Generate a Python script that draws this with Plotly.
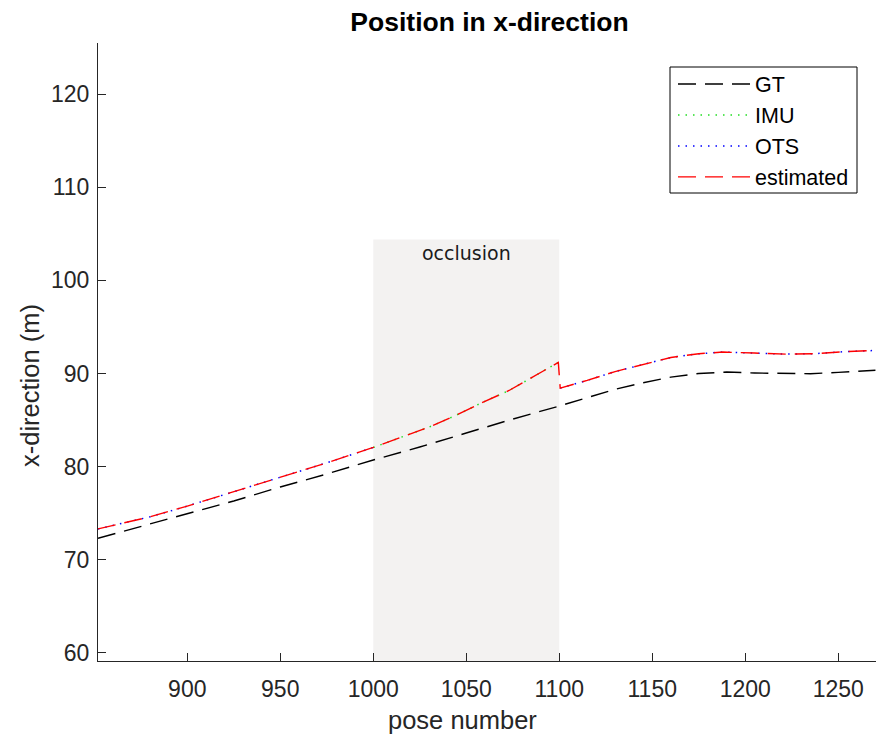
import plotly.graph_objects as go

# ---------------- data ----------------
gt_pose = [852, 870, 900, 925, 950, 975, 1000, 1025, 1050, 1075, 1100, 1115, 1130,
           1145, 1160, 1175, 1190, 1205, 1220, 1235, 1250, 1270]
gt_x = [72.3, 73.3, 74.9, 76.3, 77.8, 79.2, 80.7, 82.1, 83.6, 85.1, 86.5, 87.4, 88.3,
        89.0, 89.6, 90.0, 90.15, 90.05, 89.97, 89.97, 90.12, 90.35]

imu_pose = [1000, 1015, 1030, 1044, 1058, 1073, 1086, 1099.5]
imu_x = [82.05, 83.13, 84.24, 85.46, 86.82, 88.17, 89.68, 91.18]

ots_pre_pose = [852, 880, 900, 925, 950, 975, 1000]
ots_pre_x = [73.3, 74.6, 75.75, 77.3, 78.83, 80.4, 82.05]

ots_post_pose = [1100.5, 1115, 1130, 1146, 1160, 1175, 1188, 1205, 1222, 1237, 1255, 1270]
ots_post_x = [88.43, 89.25, 90.2, 91.04, 91.72, 92.12, 92.3, 92.19, 92.08, 92.12, 92.36, 92.47]

occlusion_start, occlusion_end, occlusion_top = 1000, 1100, 104.4

x_ticks = [900, 950, 1000, 1050, 1100, 1150, 1200, 1250]
y_ticks = [60, 70, 80, 90, 100, 110, 120]

# estimated trajectory = OTS before, IMU during occlusion, OTS after
est_pose = ots_pre_pose + imu_pose[1:] + ots_post_pose
est_x = ots_pre_x + imu_x[1:] + ots_post_x

ots_pose = ots_pre_pose + [None] + ots_post_pose
ots_x = ots_pre_x + [None] + ots_post_x

FONT = "Arial, 'Liberation Sans', Helvetica, sans-serif"
AX = "#262626"

# plot area in pixels (for placing paper-referenced layout items)
L, R, T, B = 98, 876, 43, 661


def px(xp):
    return (xp - L) / (R - L)


def py(yp):
    return (B - yp) / (B - T)


fig = go.Figure()
fig.add_trace(go.Scatter(x=gt_pose, y=gt_x, mode="lines", name="GT",
                         line=dict(color="black", width=1.4, dash="18px,9px")))
fig.add_trace(go.Scatter(x=imu_pose, y=imu_x, mode="lines", name="IMU",
                         line=dict(color="#22dd22", width=1.5, dash="1.5px,6px")))
fig.add_trace(go.Scatter(x=ots_pose, y=ots_x, mode="lines", name="OTS",
                         connectgaps=False,
                         line=dict(color="#0000ff", width=1.5, dash="1.5px,6px")))
fig.add_trace(go.Scatter(x=est_pose, y=est_x, mode="lines", name="estimated",
                         line=dict(color="#ff0000", width=1.4, dash="18px,9px")))

# occlusion region
fig.add_shape(type="rect", xref="x", yref="y",
              x0=occlusion_start, x1=occlusion_end, y0=59.11, y1=occlusion_top,
              fillcolor="#f3f2f1", line=dict(width=0), layer="below")
fig.add_annotation(x=(occlusion_start + occlusion_end) / 2, y=102.95, xref="x", yref="y",
                   text="occlusion", showarrow=False,
                   font=dict(family="DejaVu Sans", size=19, color="#1a1a1a"))

# legend frame
fig.add_shape(type="rect", xref="paper", yref="paper",
              x0=px(670), x1=px(857), y0=py(193), y1=py(67),
              fillcolor="white", line=dict(color="black", width=1), layer="above")

# axis titles
fig.add_annotation(xref="paper", yref="paper", x=px(462), y=py(720),
                   xanchor="center", yanchor="middle",
                   text="pose number", showarrow=False,
                   font=dict(family=FONT, size=25.5, color=AX))
fig.add_annotation(xref="paper", yref="paper", x=px(30), y=py(386),
                   xanchor="center", yanchor="middle",
                   text="x-direction (m)", showarrow=False, textangle=-90,
                   font=dict(family=FONT, size=25.5, color=AX))

fig.update_layout(
    width=876, height=739,
    margin=dict(l=L, r=876 - R, t=T, b=739 - B),
    paper_bgcolor="white", plot_bgcolor="white",
    font=dict(family=FONT, color=AX),
    title=dict(text="<b>Position in x-direction</b>", x=489.5 / 876, xanchor="center",
               y=0.970, yanchor="middle",
               font=dict(family=FONT, size=26.5, color="black")),
    legend=dict(x=px(673), y=py(63.5), xanchor="left", yanchor="top",
                bgcolor="rgba(0,0,0,0)", borderwidth=0,
                font=dict(family=FONT, size=21.5, color="black"),
                itemwidth=72, tracegroupgap=0),
    showlegend=True,
)
fig.update_xaxes(range=[852, 1270.3], tickvals=x_ticks, ticks="inside", ticklen=8,
                 tickcolor=AX, showline=True, linecolor=AX, linewidth=1,
                 showgrid=False, zeroline=False, ticklabelstandoff=7,
                 tickfont=dict(family=FONT, size=23, color=AX))
fig.update_yaxes(range=[59.11, 125.5], tickvals=y_ticks, ticks="inside", ticklen=8,
                 tickcolor=AX, showline=True, linecolor=AX, linewidth=1,
                 showgrid=False, zeroline=False, ticklabelstandoff=3,
                 tickfont=dict(family=FONT, size=23, color=AX))

fig.write_html("out.html")
